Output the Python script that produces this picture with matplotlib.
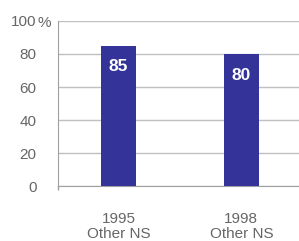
import matplotlib
matplotlib.use("Agg")
import matplotlib.pyplot as plt

plt.rcParams["font.family"] = ["Liberation Sans", "DejaVu Sans"]

categories = ["1995\nOther NS", "1998\nOther NS"]
values = [85, 80]
yticks = [0, 20, 40, 60, 80, 100]

fig = plt.figure(figsize=(2.99, 2.41), dpi=100)
ax = fig.add_axes([0.194, 0.228, 0.806, 0.685])

x = list(range(len(categories)))
ax.bar(x, values, width=0.286, color="#333399", zorder=3)
for xi, v in zip(x, values):
    ax.text(xi, v - 12.8, str(v), ha="center", va="center", color="white",
            fontsize=12.5, fontweight="bold", zorder=4)

ax.set_xlim(-0.494, 1.47)
ax.set_ylim(0, 100)
ax.set_yticks(yticks)
ax.set_yticklabels([str(t) for t in yticks])
ax.yaxis.grid(True, color="#c0c0c0", linewidth=1, zorder=0)
ax.tick_params(axis="y", length=0, pad=15.5, labelsize=11, labelcolor="#666666")
ax.set_yticks([0], minor=True)
ax.tick_params(axis="y", which="minor", length=6, color="#a0a0a0", width=1)

ax.set_xticks(x)
ax.set_xticklabels(categories, linespacing=1.05)
ax.tick_params(axis="x", length=0, pad=19, labelsize=11, labelcolor="#666666")
ax.set_xticks([-0.494], minor=True)
ax.tick_params(axis="x", which="minor", length=3, color="#a0a0a0", width=1)

for s in ["top", "right"]:
    ax.spines[s].set_visible(False)
ax.spines["left"].set_color("#a0a0a0")
ax.spines["bottom"].set_color("#a0a0a0")

fig.text(0.125, 0.905, "%", fontsize=11, color="#666666", ha="left", va="center")

fig.savefig("out.png", dpi=100)
